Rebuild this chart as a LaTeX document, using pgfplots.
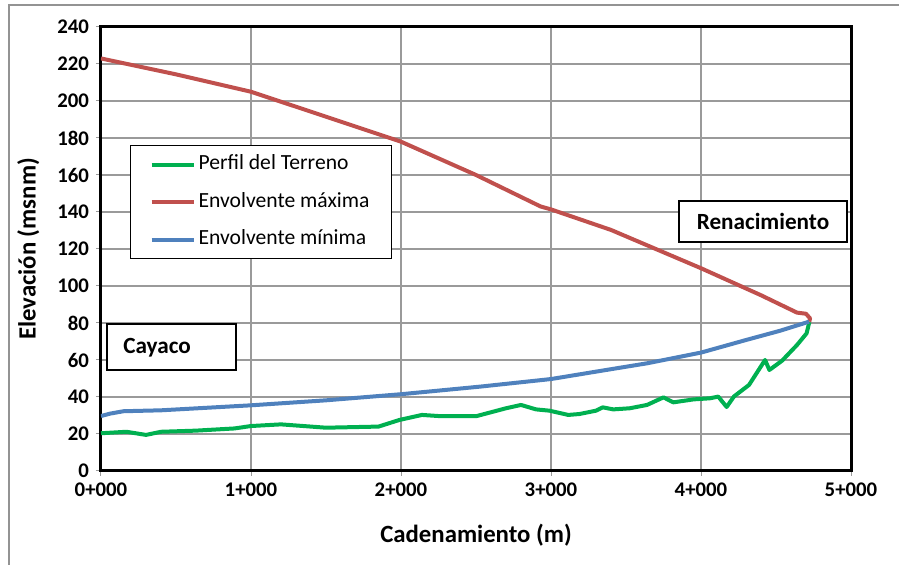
\documentclass[border=0pt]{standalone}
\usepackage{pgfplots}
\pgfplotsset{compat=1.18}
\usepackage{fontspec}
\setmainfont{Carlito}
\definecolor{cgreen}{HTML}{00B050}
\definecolor{cred}{HTML}{C0504D}
\definecolor{cblue}{HTML}{4F81BD}
\definecolor{cgrid}{HTML}{9A9A9A}
\begin{document}
\begin{tikzpicture}
\useasboundingbox (0,0) rectangle (449.5pt,282.5pt);
\draw[color=gray!85, line width=1pt] (4.5pt,0pt) -- (4.5pt,280pt) -- (449.5pt,280pt);
\begin{axis}[
  at={(50.5pt,47pt)}, anchor=south west,
  scale only axis, width=375pt, height=222pt,
  xmin=0, xmax=5000, ymin=0, ymax=240,
  xtick={0,1000,2000,3000,4000,5000},
  xticklabels={0+000,1+000,2+000,3+000,4+000,5+000},
  ytick={0,20,...,240},
  /pgf/number format/assume math mode=true,
  ticklabel style={font=\fontsize{10.4}{12}\selectfont\bfseries},
  tick align=outside, tick pos=left,
  major tick length=2.5pt,
  tick style={color=cgrid, line width=0.5pt},
  grid=major,
  major grid style={color=cgrid, line width=0.6pt},
  axis line style={line width=1.5pt, black},
  xlabel={Cadenamiento (m)},
  ylabel={Elevación (msnm)},
  label style={font=\fontsize{12.4}{14}\selectfont\bfseries},
  xlabel style={at={(axis description cs:0.5,-0.145)}, anchor=center},
  ylabel style={at={(axis description cs:-0.097,0.5)}, anchor=center, rotate=0},
  legend style={at={(axis description cs:0.0387,0.7342)}, anchor=north west,
    draw=black, line width=0.6pt, inner xsep=9.5pt, inner ysep=3pt,
    font=\fontsize{10.8}{12}\selectfont, row sep=5.75pt,
    nodes={text height=7pt, text depth=2pt, inner ysep=2pt, inner xsep=1.5pt}},
  legend cell align=left,
  legend image code/.code={\draw[#1, line width=2pt] (0pt,0pt) -- (21pt,0pt);},
  every axis plot/.append style={line width=2pt, line join=round},
]
\addplot[cgreen] coordinates {
(0,20.4) (170,21.2) (300,19.5) (400,21.2) (630,21.8) (890,23) (1000,24.3)
(1200,25.2) (1500,23.4) (1850,24) (1990,27.6) (2140,30.3) (2270,29.6)
(2500,29.6) (2700,33.9) (2800,35.7) (2900,33.3) (2990,32.6) (3115,30.3)
(3190,30.8) (3300,32.6) (3345,34.4) (3415,33.3) (3525,33.9) (3640,35.7)
(3750,39.8) (3815,37.1) (3950,38.7) (4060,39.3) (4115,40.2) (4171,34.6)
(4220,40.3) (4320,46.5) (4427,60) (4456,54.6) (4540,59.6) (4640,68.1)
(4704,74.4) (4722,80.5)};
\addlegendentry{Perfil del Terreno}
\addplot[cred] coordinates {
(0,223) (500,214.4) (1000,205) (1500,191.5) (2000,178) (2400,163.6)
(2500,160) (2930,143) (3000,141.4) (3400,130.3) (4000,109.6) (4400,95)
(4640,85.6) (4700,85) (4727,82.5) (4722,80.7)};
\addlegendentry{Envolvente máxima}
\addplot[cblue] coordinates {
(0,29.7) (60,31) (150,32.3) (400,32.8) (1000,35.5) (1500,38.2) (2000,41.5)
(2527,45.6) (3000,49.7) (3300,53.7) (3640,58.2) (4000,64) (4300,70.8)
(4527,75.8) (4720,80.7)};
\addlegendentry{Envolvente mínima}
\end{axis}
\draw[line width=1pt, fill=white] (53.5pt,97.5pt) rectangle (118pt,120.5pt);
\node[anchor=west, font=\fontsize{11.6}{13}\selectfont\bfseries, inner sep=0pt] at (61.5pt,108.5pt) {Cayaco};
\draw[line width=1pt, fill=white] (339.5pt,161.5pt) rectangle (423.5pt,182pt);
\node[font=\fontsize{11.6}{13}\selectfont\bfseries, inner sep=0pt] at (381.5pt,171.75pt) {Renacimiento};
\end{tikzpicture}
\end{document}
